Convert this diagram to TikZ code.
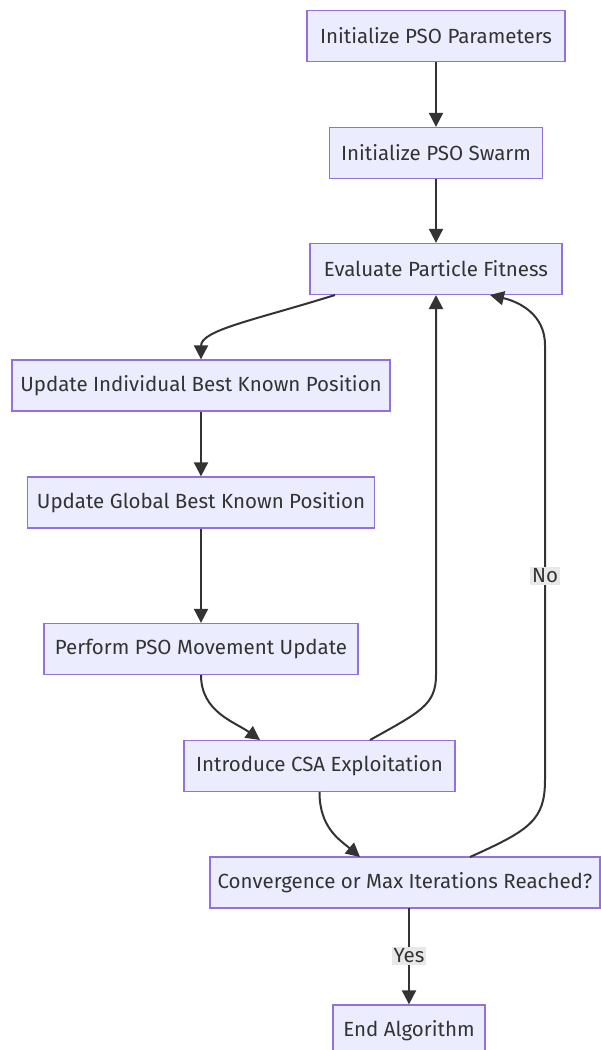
\documentclass[tikz,border=0pt]{standalone}
\usepackage{fontspec}
\setmainfont{Fira Sans}
\usetikzlibrary{arrows.meta}
\definecolor{boxfill}{HTML}{ECECFF}
\definecolor{boxdraw}{HTML}{9370DB}
\definecolor{edge}{HTML}{333333}
\definecolor{lblbg}{HTML}{E8E8E8}
\tikzset{
  stepbox/.style={draw=boxdraw, fill=boxfill, line width=1.3pt, minimum height=51pt, inner sep=0pt, font=\fontsize{20.5}{24}\selectfont, text=edge},
  conn/.style={draw=edge, line width=2pt, -{Triangle[length=14pt,width=14pt]}},
  lbl/.style={fill=lblbg, inner sep=2pt, font=\fontsize{20.5}{24}\selectfont, text=edge}
}
\begin{document}
\begin{tikzpicture}[x=1pt,y=-1pt]
\useasboundingbox[fill=white] (0,0) rectangle (600,1050);
\node[stepbox, minimum width=258pt] (n1) at (436,36) {Initialize PSO Parameters};
\node[stepbox, minimum width=213pt] (n2) at (436,153) {Initialize PSO Swarm};
\node[stepbox, minimum width=252pt] (n3) at (436,269) {Evaluate Particle Fitness};
\node[stepbox, minimum width=378pt] (n4) at (201,385.5) {Update Individual Best Known Position};
\node[stepbox, minimum width=347pt] (n5) at (201,502.5) {Update Global Best Known Position};
\node[stepbox, minimum width=314pt] (n6) at (201,649) {Perform PSO Movement Update};
\node[stepbox, minimum width=271pt] (n7) at (319.5,766) {Introduce CSA Exploitation};
\node[stepbox, minimum width=390pt] (n8) at (405,882.5) {Convergence or Max Iterations Reached?};
\node[stepbox, minimum width=152pt] (n9) at (409,1030.5) {End Algorithm};

\coordinate (c3b) at (335,295);
\coordinate (c6b) at (201,675);
\coordinate (c7a) at (260,740);
\coordinate (c7t) at (370,740);
\coordinate (c7b) at (319.5,792);
\coordinate (c8a) at (360,857);
\coordinate (c8t) at (470,857);
\coordinate (c3r) at (490,295);
\coordinate (c3m) at (436,295);
\coordinate (c8b) at (409,908);

\draw[conn] (n1) -- (n2);
\draw[conn] (n2) -- (n3);
\draw[conn] (c3b) .. controls (255,320) and (201,330) .. (n4.north);
\draw[conn] (n4) -- (n5);
\draw[conn] (n5) -- (n6);
\draw[conn] (c6b) .. controls (201,712) and (235,722) .. (c7a);
\draw[conn] (c7t) .. controls (420,712) and (436,705) .. (436,675) -- (c3m);
\draw[conn] (c7b) .. controls (319.5,828) and (340,840) .. (c8a);
\draw[conn] (c8t) .. controls (530,830) and (545,820) .. (545,780) -- (545,345) .. controls (545,315) and (520,302) .. (c3r);
\node[lbl] (no) at (545,576) {No};
\draw[conn] (c8b) -- (n9.north);
\node[lbl] (yes) at (409,956) {Yes};
\end{tikzpicture}
\end{document}
